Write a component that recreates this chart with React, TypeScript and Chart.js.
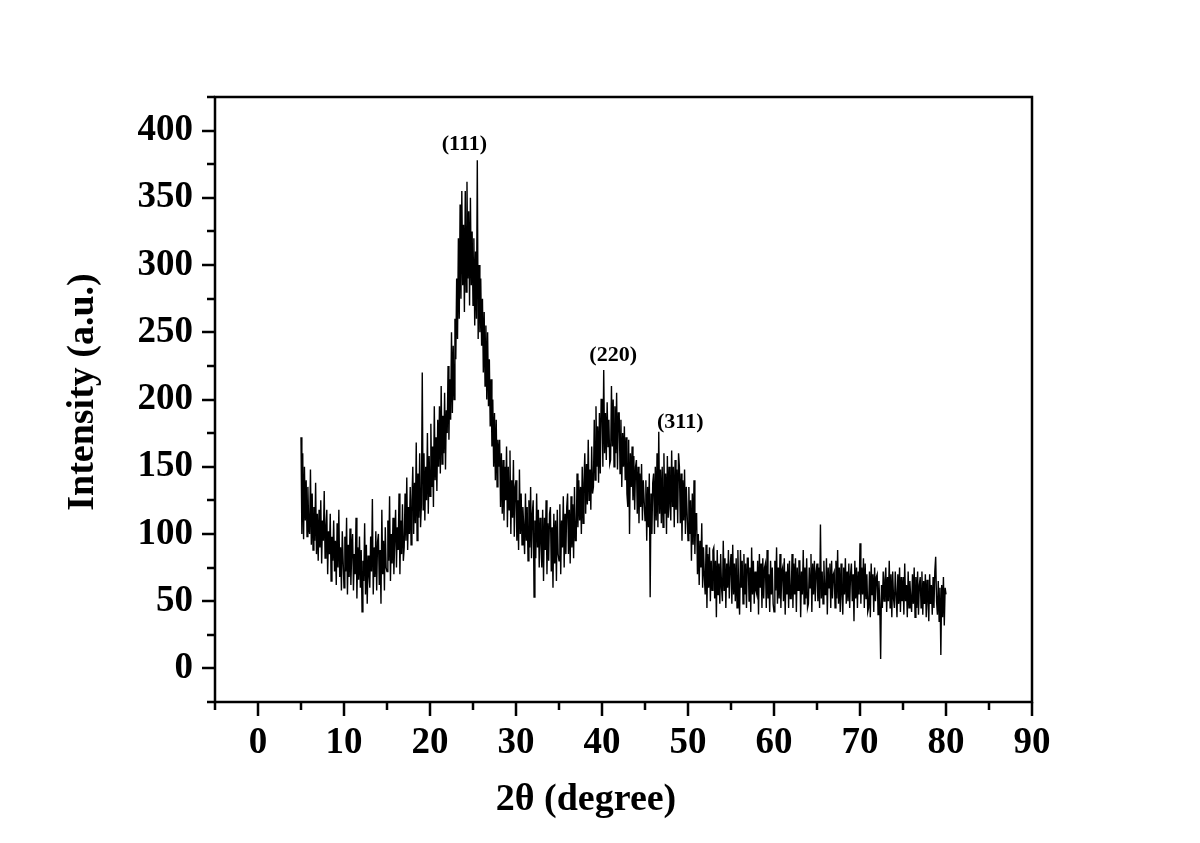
import React, { useEffect, useRef } from "react";
import { Chart, registerables } from "chart.js";

Chart.register(...registerables);

// 2θ scan: starts at 5°, one reading every 0.1°
const TWO_THETA_START = 5;
const TWO_THETA_STEP = 0.1;

// Intensity (a.u.), one row per degree (10 readings per degree)
const INTENSITY: number[] = [
  172, 100, 160, 96, 150, 110, 140, 98, 135, 105,
  100, 148, 92, 130, 88, 120, 95, 138, 85, 115,
  80, 118, 90, 125, 78, 110, 95, 132, 82, 105,
  118, 70, 102, 85, 115, 65, 98, 80, 110, 72,
  95, 62, 108, 75, 118, 68, 90, 58, 102, 80,
  60, 98, 72, 112, 55, 92, 68, 104, 62, 88,
  100, 58, 85, 70, 112, 52, 90, 66, 98, 60,
  88, 42, 80, 65, 108, 55, 92, 48, 84, 70,
  60, 98, 72, 126, 55, 90, 68, 102, 58, 94,
  100, 62, 88, 48, 118, 70, 95, 58, 105, 75,
  72, 110, 80, 128, 65, 100, 78, 112, 70, 96,
  118, 75, 105, 88, 130, 70, 110, 85, 122, 80,
  90, 130, 95, 142, 88, 120, 100, 135, 92, 125,
  150, 100, 138, 108, 168, 95, 145, 112, 160, 105,
  122, 220, 118, 160, 110, 150, 125, 175, 115, 158,
  128, 182, 135, 165, 120, 195, 140, 172, 132, 185,
  150, 195, 145, 210, 152, 188, 160, 205, 148, 192,
  175, 225, 170, 215, 185, 250, 190, 240, 200, 260,
  230, 290, 245, 320, 260, 345, 275, 355, 285, 330,
  265, 355, 280, 362, 290, 340, 270, 350, 285, 325,
  270, 320, 255, 310, 260, 378, 245, 300, 250, 290,
  240, 275, 220, 265, 210, 255, 200, 250, 195, 230,
  180, 215, 165, 200, 150, 190, 140, 185, 135, 170,
  150, 170, 120, 160, 115, 155, 110, 150, 125, 165,
  105, 150, 118, 162, 100, 140, 112, 155, 98, 135,
  140, 95, 125, 88, 148, 100, 130, 92, 120, 105,
  85, 130, 95, 120, 80, 125, 90, 135, 82, 115,
  125, 53, 110, 82, 130, 90, 118, 75, 112, 95,
  75, 118, 65, 112, 88, 125, 70, 108, 80, 115,
  120, 72, 105, 60, 115, 78, 110, 65, 118, 85,
  80, 122, 70, 110, 90, 128, 75, 115, 85, 120,
  130, 85, 118, 78, 128, 90, 122, 82, 135, 95,
  95, 145, 105, 140, 110, 135, 100, 150, 108, 138,
  160, 115, 152, 122, 170, 125, 148, 118, 165, 130,
  135, 185, 140, 195, 150, 180, 138, 190, 145, 200,
  200, 150, 222, 160, 190, 155, 198, 165, 185, 152,
  155, 210, 165, 200, 150, 195, 160, 205, 148, 190,
  190, 145, 185, 135, 175, 150, 180, 140, 172, 130,
  120, 170, 100, 160, 135, 165, 125, 158, 118, 150,
  155, 115, 150, 108, 145, 120, 152, 110, 140, 125,
  110, 140, 95, 135, 105, 145, 53, 130, 100, 138,
  145, 100, 150, 110, 160, 105, 176, 115, 148, 108,
  150, 105, 160, 115, 145, 100, 158, 112, 150, 120,
  110, 162, 120, 150, 105, 155, 118, 148, 108, 160,
  150, 108, 145, 95, 140, 110, 148, 100, 135, 115,
  95, 135, 100, 125, 80, 130, 92, 140, 85, 115,
  115, 70, 100, 62, 95, 75, 108, 60, 90, 68,
  55, 92, 45, 85, 60, 90, 50, 80, 58, 88,
  90, 52, 80, 38, 88, 55, 78, 48, 85, 60,
  50, 95, 58, 82, 45, 78, 60, 88, 52, 75,
  85, 48, 92, 55, 78, 50, 82, 45, 88, 58,
  40, 88, 60, 80, 48, 85, 55, 78, 45, 82,
  82, 50, 75, 42, 90, 55, 80, 48, 72, 58,
  55, 80, 40, 85, 60, 78, 45, 82, 52, 75,
  78, 45, 88, 52, 70, 42, 80, 55, 75, 48,
  42, 80, 58, 90, 48, 75, 52, 85, 45, 72,
  75, 50, 82, 40, 72, 55, 78, 45, 80, 52,
  52, 85, 45, 78, 55, 82, 42, 75, 58, 80,
  80, 38, 72, 55, 88, 48, 75, 52, 82, 45,
  48, 75, 60, 85, 42, 78, 55, 80, 50, 72,
  78, 50, 75, 45, 107, 52, 72, 48, 80, 55,
  55, 82, 40, 75, 60, 78, 45, 80, 52, 70,
  72, 45, 80, 52, 88, 48, 75, 42, 78, 55,
  40, 75, 55, 82, 48, 72, 50, 78, 45, 70,
  78, 50, 70, 35, 80, 52, 75, 45, 72, 55,
  93, 48, 75, 55, 82, 45, 78, 52, 70, 42,
  45, 72, 38, 78, 55, 70, 42, 75, 50, 68,
  70, 40, 65, 48, 7, 62, 45, 72, 50, 66,
  75, 42, 68, 50, 80, 45, 70, 38, 72, 52,
  45, 72, 55, 38, 70, 48, 75, 42, 68, 50,
  68, 40, 78, 50, 62, 38, 72, 45, 65, 52,
  42, 70, 48, 75, 38, 68, 45, 72, 40, 62,
  68, 45, 72, 40, 65, 48, 70, 38, 66, 50,
  35, 70, 48, 62, 40, 68, 45, 72, 83, 50,
  40, 65, 35, 60, 10, 62, 38, 68, 32, 60,
  55,
];

const X_TICKS = [0, 10, 20, 30, 40, 50, 60, 70, 80, 90];
const Y_TICKS = [0, 50, 100, 150, 200, 250, 300, 350, 400];
const X_MIN = -5, X_MAX = 90, X_MINOR = 5;
const Y_MIN = -25, Y_MAX = 425, Y_MINOR = 25;

const X_TITLE = "2θ (degree)";
const Y_TITLE = "Intensity (a.u.)";

const PEAK_LABELS = ["(111)", "(220)", "(311)"];
const PEAK_X = [24, 41.3, 49.1];
const PEAK_Y = [390, 233, 183];

const SERIF = "'Times New Roman', 'Liberation Serif', serif";

const framePlugin = {
  id: "frameAndTicks",
  afterDraw(chart: any) {
    const { ctx, chartArea, scales } = chart;
    const xs = scales.x, ys = scales.y;
    ctx.save();
    ctx.strokeStyle = "#000";
    ctx.lineWidth = 2.5;
    ctx.strokeRect(chartArea.left, chartArea.top, chartArea.right - chartArea.left, chartArea.bottom - chartArea.top);
    ctx.beginPath();
    for (let v = X_MIN; v <= X_MAX + 1e-9; v += X_MINOR) {
      const px = Math.round(xs.getPixelForValue(v));
      const len = v % 10 === 0 ? 14 : 8;
      ctx.moveTo(px, chartArea.bottom);
      ctx.lineTo(px, chartArea.bottom + len);
    }
    for (let v = Y_MIN; v <= Y_MAX + 1e-9; v += Y_MINOR) {
      const py = Math.round(ys.getPixelForValue(v));
      const len = v % 50 === 0 ? 13 : 8;
      ctx.moveTo(chartArea.left, py);
      ctx.lineTo(chartArea.left - len, py);
    }
    ctx.stroke();

    ctx.fillStyle = "#000";
    ctx.textAlign = "center";
    ctx.textBaseline = "middle";
    ctx.font = `bold 22px ${SERIF}`;
    PEAK_LABELS.forEach((t, i) => {
      ctx.fillText(t, xs.getPixelForValue(PEAK_X[i]), ys.getPixelForValue(PEAK_Y[i]));
    });

    ctx.font = `bold 38px ${SERIF}`;
    ctx.fillText(X_TITLE, chartArea.left + 371, chartArea.bottom + 98);
    ctx.save();
    ctx.translate(chartArea.left - 132, chartArea.top + 295);
    ctx.rotate(-Math.PI / 2);
    ctx.fillText(Y_TITLE, 0, 0);
    ctx.restore();
    ctx.restore();
  },
};

export default function App() {
  const ref = useRef<HTMLCanvasElement | null>(null);
  useEffect(() => {
    if (!ref.current) return;
    const points = INTENSITY.map((y, i) => ({
      x: +(TWO_THETA_START + TWO_THETA_STEP * i).toFixed(2),
      y,
    }));
    const chart = new Chart(ref.current, {
      type: "line",
      data: {
        datasets: [
          {
            data: points,
            borderColor: "#000",
            borderWidth: 1.4,
            pointRadius: 0,
            tension: 0,
            fill: false,
          },
        ],
      },
      plugins: [framePlugin],
      options: {
        animation: false,
        responsive: true,
        maintainAspectRatio: false,
        layout: { padding: { top: 97, right: 168, bottom: 0, left: 0 } },
        plugins: { legend: { display: false }, tooltip: { enabled: false } },
        scales: {
          x: {
            type: "linear",
            min: X_MIN,
            max: X_MAX,
            afterBuildTicks: (s: any) => {
              s.ticks = X_TICKS.map((v) => ({ value: v }));
            },
            afterFit: (s: any) => {
              s.height = 141;
            },
            grid: { display: false, drawTicks: false },
            border: { display: false },
            ticks: {
              color: "#000",
              padding: 19,
              maxRotation: 0,
              autoSkip: false,
              font: { family: SERIF, size: 37, weight: "bold" },
            },
          },
          y: {
            type: "linear",
            min: Y_MIN,
            max: Y_MAX,
            afterBuildTicks: (s: any) => {
              s.ticks = Y_TICKS.map((v) => ({ value: v }));
            },
            afterFit: (s: any) => {
              s.width = 215;
            },
            grid: { display: false, drawTicks: false },
            border: { display: false },
            ticks: {
              color: "#000",
              padding: 22,
              autoSkip: false,
              font: { family: SERIF, size: 37, weight: "bold" },
            },
          },
        },
      },
    });
    return () => chart.destroy();
  }, []);
  return (
    <div style={{ position: "absolute", left: 0, top: 0, width: 1200, height: 843, background: "#fff" }}>
      <canvas ref={ref} />
    </div>
  );
}
